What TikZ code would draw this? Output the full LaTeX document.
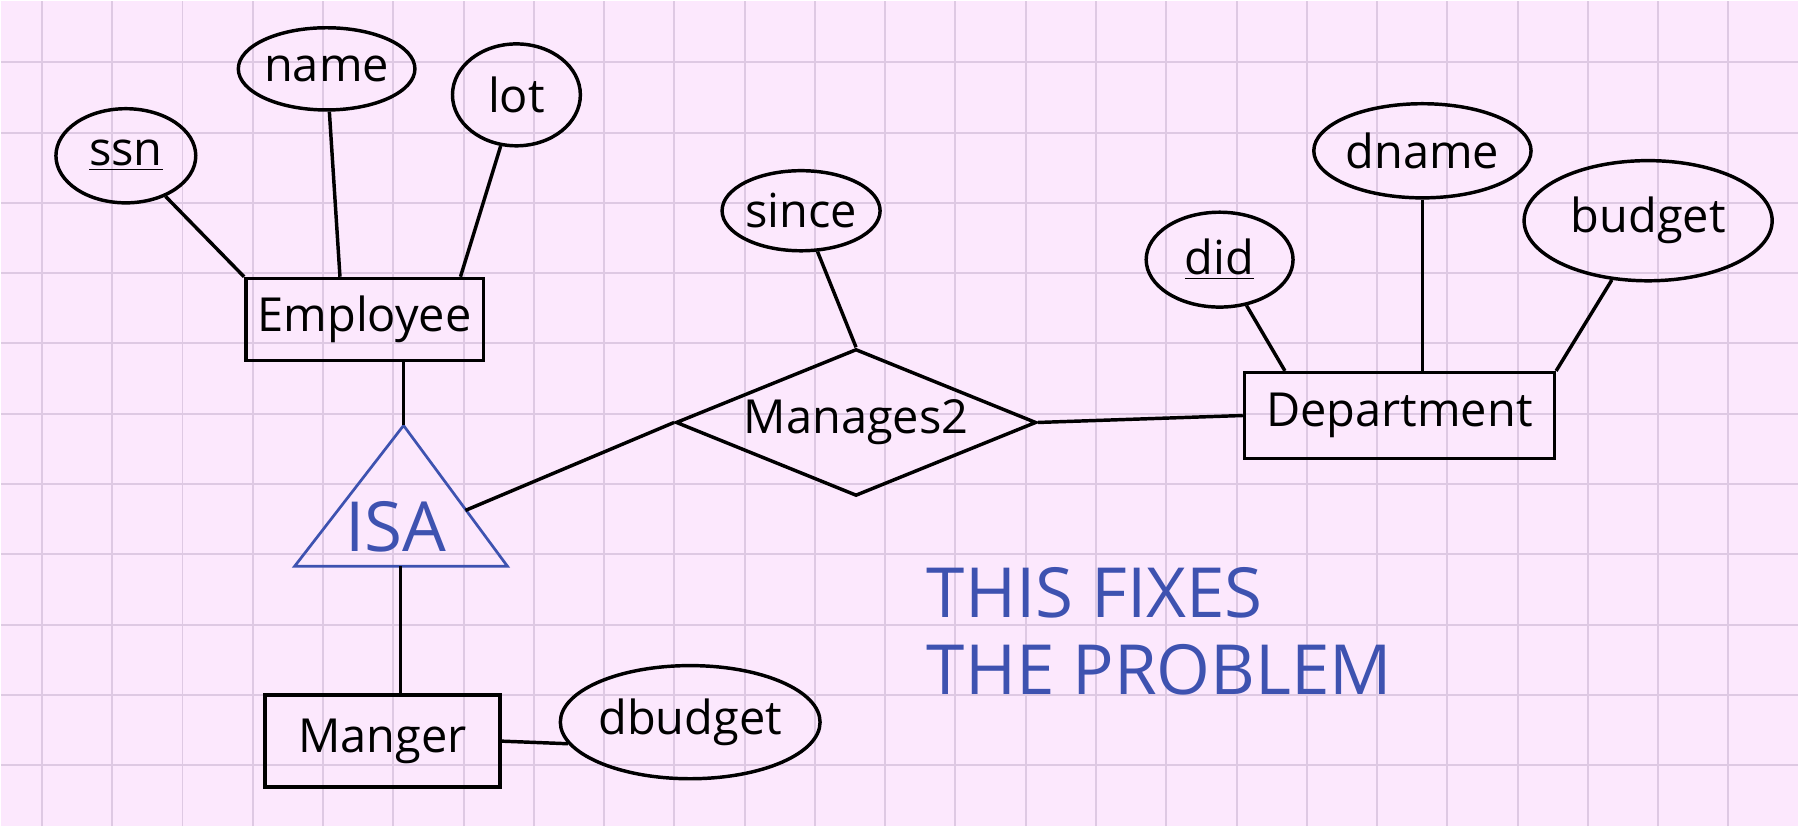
\documentclass[tikz,border=0pt]{standalone}
\usepackage{fontspec}
\setmainfont{Open Sans}
\usetikzlibrary{shapes.geometric}

\definecolor{paper}{RGB}{252,232,253}
\definecolor{gridpink}{RGB}{222,201,227}
\definecolor{inkblue}{RGB}{62,82,176}

\tikzset{
    ink/.style={line width=1.4pt, black},
    attr/.style={ellipse, draw, line width=1.4pt, inner sep=0pt, font=\fontsize{19}{22}\selectfont},
    entity/.style={rectangle, draw, line width=1.4pt, inner sep=0pt, font=\fontsize{19}{22}\selectfont},
    rel/.style={diamond, aspect=2.45, draw, line width=1.4pt, inner sep=0pt, font=\fontsize{19}{22}\selectfont},
    isabox/.style={line width=1.1pt, inkblue},
    note/.style={align=left, text=inkblue, font=\fontsize{28}{31}\selectfont}
}

\begin{document}
\begin{tikzpicture}
        \fill[paper] (-0.583,-10.867) rectangle (24.99,0.874);                          % sheet
        \draw[gridpink, line width=0.8pt] (-0.583,-10.867) grid (24.99,0.874);          % squares

        \node[entity, minimum width=3.38cm, minimum height=1.17cm](emp) at (4.591,-3.660) {Employee};
        \node[attr, minimum width=1.99cm, minimum height=1.34cm](ssn) at (1.194,-1.329) {\underline{ssn}};
        \node[attr, minimum width=2.13cm, minimum height=1.17cm](name) at (4.051,-0.092) {name};
        \node[attr, minimum width=1.82cm, minimum height=1.45cm](lot) at (6.752,-0.462) {lot};

        \draw[isabox] (5.146,-5.167) -- (3.596,-7.17) -- (6.624,-7.17) -- cycle;          % ISA
        \coordinate (isatop) at (5.146,-5.167);
        \coordinate (isabase) at (5.1,-7.17);
        \coordinate (isaside) at (6.027,-6.375);
        \node[text=inkblue, font=\fontsize{28}{28}\selectfont](isa) at (5.032,-6.603) {ISA};

        \node[entity, minimum width=3.34cm, minimum height=1.31cm](mgr) at (4.847,-9.659) {Manger};
        \node[attr, minimum width=3.11cm, minimum height=1.61cm](dbudget) at (9.225,-9.389) {dbudget};

        \node[rel, minimum width=5.13cm, minimum height=2.09cm](mgs) at (11.585,-5.124) {Manages2};
        \node[attr, minimum width=1.90cm, minimum height=1.14cm](since) at (10.803,-2.111) {since};

        \node[entity, minimum width=4.41cm, minimum height=1.22cm](dept) at (19.318,-5.025) {Department};
        \node[attr, minimum width=2.09cm, minimum height=1.35cm](did) at (16.759,-2.807) {\underline{did}};
        \node[attr, minimum width=2.64cm, minimum height=1.34cm](dname) at (19.645,-1.258) {dname};
        \node[attr, minimum width=3.53cm, minimum height=1.71cm](budget) at (22.857,-2.253) {budget};

        \node[note, anchor=west](fix) at (12.47,-8.095) {THIS FIXES\\THE PROBLEM};

        \draw[ink] (ssn) -- (emp.north west);
        \draw[ink] (name) -- ([xshift=-0.35cm]emp.north);
        \draw[ink] (lot) -- ([xshift=-0.35cm]emp.north east);
        \draw[ink] (emp.south -| isatop) -- (isatop);
        \draw[ink] (isabase) -- (isabase |- mgr.north);
        \draw[ink] (mgr.east) -- (dbudget.190);
        \draw[ink] (isaside) -- (mgs.west);
        \draw[ink] (since) -- (mgs.north);
        \draw[ink] (mgs.east) -- (dept.west);
        \draw[ink] (did) -- ([xshift=0.6cm]dept.north west);
        \draw[ink] (dname.south) -- (dname.south |- dept.north);
        \draw[ink] (budget) -- (dept.north east);

    \end{tikzpicture}
\end{document}
